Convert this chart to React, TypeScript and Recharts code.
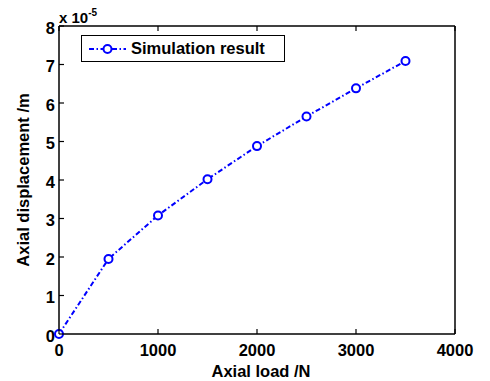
import React from 'react';
import { LineChart, Line, XAxis, YAxis } from 'recharts';

// axial load (N) vs axial displacement (x 1e-5 m)
const loads = [0, 500, 1000, 1500, 2000, 2500, 3000, 3500];
const displacement = [0, 1.95, 3.08, 4.02, 4.88, 5.65, 6.38, 7.09];
const xTicks = [0, 1000, 2000, 3000, 4000];
const yTicks = [0, 1, 2, 3, 4, 5, 6, 7, 8];

const data = loads.map((load, i) => ({ load, disp: displacement[i] }));

const FONT = '"Liberation Sans", Arial, Helvetica, sans-serif';
const FS = 16.5;
const FW = 'bold';
const TICK = 5;
const BLUE = '#0000ff';
const DASH = '5 2.5 1.5 2.5';

const BottomTick = (p: any) => (
  <g>
    <line x1={p.x} y1={p.y} x2={p.x} y2={p.y - TICK} stroke="#000" strokeWidth={1.2} />
    <text x={p.x} y={p.y + 22} textAnchor="middle" fontSize={FS} fontWeight={FW} fontFamily={FONT} fill="#000">
      {p.payload.value}
    </text>
  </g>
);

const TopTick = (p: any) => (
  <line x1={p.x} y1={p.y} x2={p.x} y2={p.y + TICK} stroke="#000" strokeWidth={1.2} />
);

const LeftTick = (p: any) => (
  <g>
    <line x1={p.x} y1={p.y} x2={p.x + TICK} y2={p.y} stroke="#000" strokeWidth={1.2} />
    <text x={p.x - 4} y={p.y + 7.5} textAnchor="end" fontSize={FS} fontWeight={FW} fontFamily={FONT} fill="#000">
      {p.payload.value}
    </text>
  </g>
);

const RightTick = (p: any) => (
  <line x1={p.x} y1={p.y} x2={p.x - TICK} y2={p.y} stroke="#000" strokeWidth={1.2} />
);

const ScaleLabel = () => (
  <text x={59} y={23} fontSize={15} fontWeight={FW} fontFamily={FONT} fill="#000">
    x 10<tspan dy={-7} fontSize={10}>-5</tspan>
  </text>
);

const LegendBox = () => (
  <div
    style={{
      position: 'absolute',
      left: 81,
      top: 35,
      width: 202,
      height: 25,
      border: '1.5px solid #000',
      background: '#fff',
      display: 'flex',
      alignItems: 'center',
      fontFamily: FONT,
      fontSize: FS,
      fontWeight: FW,
    }}
  >
    <svg width={44} height={14} style={{ marginLeft: 5 }}>
      <line x1={2} y1={7} x2={39} y2={7} stroke={BLUE} strokeWidth={2} strokeDasharray={DASH} />
      <circle cx={20.5} cy={7} r={4} stroke={BLUE} strokeWidth={2} fill="#fff" />
    </svg>
    <span style={{ marginLeft: 0 }}>Simulation result</span>
  </div>
);

export default function App() {
  return (
    <div style={{ position: 'absolute', left: 0, top: 0, width: 490, height: 381, background: '#fff' }}>
      <LineChart width={490} height={381} data={data} margin={{ top: 25, right: 34, bottom: 0, left: 0 }}>
        <XAxis
          xAxisId="b"
          dataKey="load"
          type="number"
          domain={[0, 4000]}
          ticks={xTicks}
          height={47}
          tickSize={0}
          tickMargin={0}
          tick={BottomTick}
          axisLine={{ stroke: '#000', strokeWidth: 1.5 }}
          label={{
            value: 'Axial load /N',
            position: 'center',
            dx: 4,
            dy: 14,
            fontSize: FS,
            fontWeight: FW,
            fontFamily: FONT,
            fill: '#000',
          }}
        />
        <XAxis
          xAxisId="t"
          orientation="top"
          dataKey="load"
          type="number"
          domain={[0, 4000]}
          ticks={xTicks}
          height={1}
          tickSize={0}
          tickMargin={0}
          tick={TopTick}
          axisLine={{ stroke: '#000', strokeWidth: 1.5 }}
          label={{ content: ScaleLabel }}
        />
        <YAxis
          yAxisId="l"
          type="number"
          domain={[0, 8]}
          ticks={yTicks}
          width={59}
          tickSize={0}
          tickMargin={0}
          tick={LeftTick}
          axisLine={{ stroke: '#000', strokeWidth: 1.5 }}
          label={{
            value: 'Axial displacement /m',
            angle: -90,
            position: 'center',
            dx: -6,
            fontSize: FS,
            fontWeight: FW,
            fontFamily: FONT,
            fill: '#000',
          }}
        />
        <YAxis
          yAxisId="r"
          orientation="right"
          type="number"
          domain={[0, 8]}
          ticks={yTicks}
          width={1}
          tickSize={0}
          tickMargin={0}
          tick={RightTick}
          axisLine={{ stroke: '#000', strokeWidth: 1.5 }}
        />
        <Line
          xAxisId="b"
          yAxisId="l"
          dataKey="disp"
          stroke={BLUE}
          strokeWidth={2}
          strokeDasharray={DASH}
          type="linear"
          dot={{ r: 4, stroke: BLUE, strokeWidth: 2, fill: '#fff', strokeDasharray: 'none' }}
          isAnimationActive={false}
        />
      </LineChart>
      <LegendBox />
    </div>
  );
}
